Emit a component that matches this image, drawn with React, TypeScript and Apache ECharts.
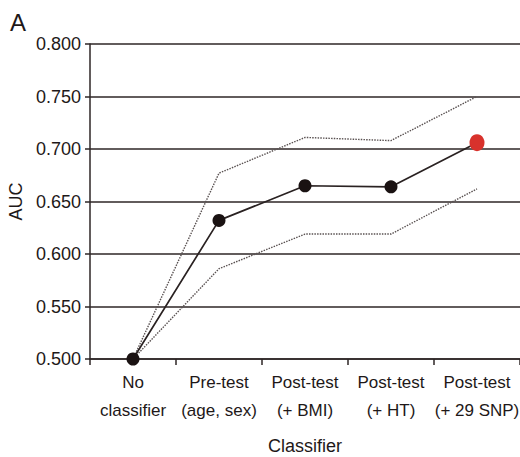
import React, { useEffect, useRef } from "react";
import * as echarts from "echarts";

const categories = ["No\nclassifier", "Pre-test\n(age, sex)", "Post-test\n(+ BMI)", "Post-test\n(+ HT)", "Post-test\n(+ 29 SNP)"];
const aucValues = [0.5, 0.632, 0.665, 0.664, 0.706];
const upperCI = [0.5, 0.677, 0.711, 0.708, 0.75];
const lowerCI = [0.5, 0.586, 0.619, 0.619, 0.662];
const yTicks = { min: 0.5, max: 0.8, interval: 0.05 };

const FONT = "'Liberation Sans', Arial, sans-serif";
const TXT = "#1e1818";

export default function App() {
  const ref = useRef<HTMLDivElement>(null);
  useEffect(() => {
    const chart = echarts.init(ref.current!, null, { renderer: "svg" });
    const pointData = aucValues.map((v, i) =>
      i === aucValues.length - 1
        ? { value: v, symbolSize: [15, 17], itemStyle: { color: "#d8322c" } }
        : { value: v }
    );
    chart.setOption({
      animation: false,
      backgroundColor: "#ffffff",
      textStyle: { fontFamily: FONT },
      graphic: [
        { type: "text", left: 10, top: 10, style: { text: "A", fontSize: 24, fontFamily: FONT, fill: TXT } },
      ],
      grid: { left: 90, right: 0, top: 44, bottom: 98, containLabel: false, outerBoundsMode: "none" },
      xAxis: {
        type: "category",
        data: categories,
        boundaryGap: true,
        name: "Classifier",
        nameLocation: "middle",
        nameGap: 78,
        nameTextStyle: { fontSize: 18, color: TXT, fontFamily: FONT },
        axisLine: { show: true, lineStyle: { color: "#2e2626", width: 1.5 } },
        axisTick: { show: true, alignWithLabel: false, length: 6, lineStyle: { color: "#2e2626", width: 1.5 } },
        axisLabel: { fontSize: 17, color: TXT, lineHeight: 28, margin: 9, interval: 0, fontFamily: FONT, hideOverlap: false },
        splitLine: { show: false },
      },
      yAxis: {
        type: "value",
        min: yTicks.min,
        max: yTicks.max,
        interval: yTicks.interval,
        name: "AUC",
        nameLocation: "middle",
        nameGap: 54,
        nameRotate: 90,
        nameTextStyle: { fontSize: 18, color: TXT, fontFamily: FONT },
        axisLine: { show: true, lineStyle: { color: "#2e2626", width: 1.5 } },
        axisTick: { show: true, length: 5, lineStyle: { color: "#2e2626", width: 1.5 } },
        axisLabel: { fontSize: 18, color: TXT, margin: 9, formatter: (v: number) => v.toFixed(3), fontFamily: FONT },
        splitLine: { show: true, lineStyle: { color: "#2e2626", width: 1.5 } },
      },
      series: [
        {
          type: "line",
          data: upperCI,
          symbol: "none",
          lineStyle: { color: "#5a5252", width: 1.4, type: [1.5, 1.2] },
          z: 2,
        },
        {
          type: "line",
          data: lowerCI,
          symbol: "none",
          lineStyle: { color: "#5a5252", width: 1.4, type: [1.5, 1.2] },
          z: 2,
        },
        {
          type: "line",
          data: pointData,
          symbol: "circle",
          symbolSize: 13,
          itemStyle: { color: "#1a1212" },
          lineStyle: { color: "#2a2222", width: 1.7 },
          z: 3,
        },
      ],
    });
    return () => chart.dispose();
  }, []);
  return <div ref={ref} style={{ position: "fixed", left: 0, top: 0, width: 520, height: 457 }} />;
}
